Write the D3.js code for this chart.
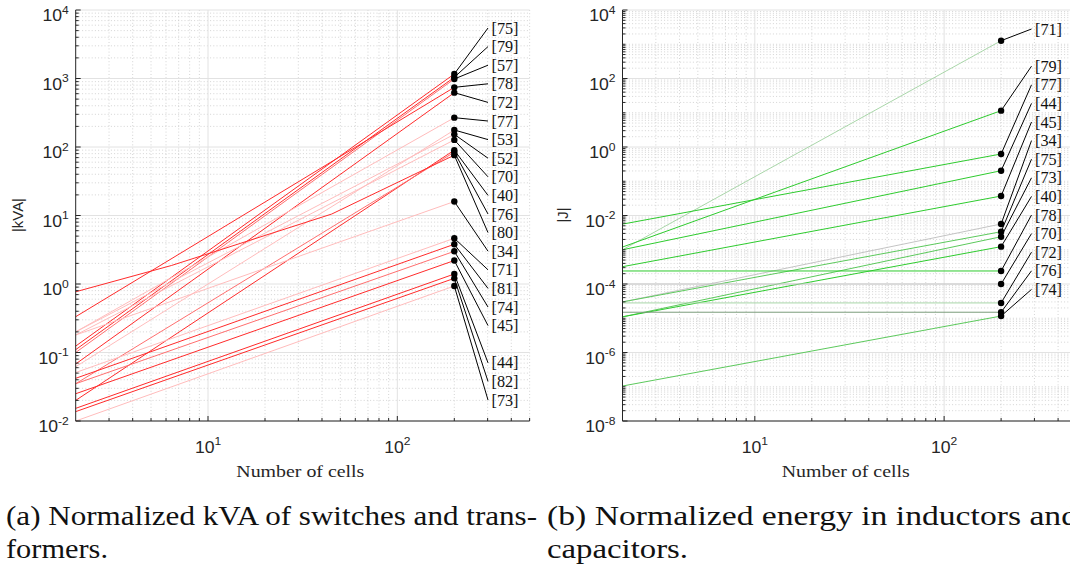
<!DOCTYPE html>
<html><head><meta charset="utf-8">
<script src="https://cdn.jsdelivr.net/npm/d3@7"></script>
<style>body{margin:0;background:#fff}svg{display:block}</style>
</head><body><svg id="c" width="1070" height="572"></svg>
<script>
// ---------- data ----------
const cellsDomain = [2, 500];
const cellsStart = 2;
const cellsEnd = 200;
const cellsTickExps = [1, 2];

const kvaRefs  = ["[75]","[79]","[57]","[78]","[72]","[77]","[53]","[52]","[70]","[40]","[76]","[80]","[34]","[71]","[81]","[74]","[45]","[44]","[82]","[73]"];
const kvaAt2   = [0.124,0.11,0.10,0.333,0.068,0.2,0.062,0.2,0.18,0.020,0.035,0.77,0.18,0.051,0.042,0.035,0.025,0.0153,0.0137,0.010];
const kvaAt200 = [1164,1041,984,743,621,268,177,153,127,90,84,76,16,4.65,3.8,3.0,2.2,1.40,1.21,0.935];
const kvaTone  = ["strong","strong","medium","strong","strong","light","light","light","light","strong","medium","strong","light","light","strong","medium","strong","strong","strong","light"];
const kvaBendRef = "[80]";
const kvaBendCells  = [2, 6.4, 45, 200];
const kvaBendValues = [0.77, 1.86, 10.5, 76];
const kvaTickExps = [-2,-1,0,1,2,3,4];
const kvaGapBefore = ["[44]"];

const energyRefs  = ["[71]","[79]","[77]","[44]","[45]","[34]","[75]","[73]","[40]","[78]","[70]","[72]","[76]","[74]"];
const energyAt2   = [0.0010,0.0012,0.0056,0.0010,3.2e-4,3.0e-5,3.0e-5,1.1e-5,1.1e-5,2.4e-4,1.0e-4,2.8e-5,1.5e-5,1.05e-7];
const energyAt200 = [1270,11.5,0.625,0.203,0.037,0.00565,0.00336,0.0024,0.00123,2.4e-4,1.0e-4,2.8e-5,1.5e-5,1.16e-5];
const energyTone  = ["pale","strong","strong","strong","strong","grey","medium","medium","strong","strong","grey","pale","dark","medium"];
const energyTickExps = [-8,-6,-4,-2,0,2,4];
const energyGapBefore = ["[79]"];

const yTitles = ["|kVA|", "|J|"];
const xTitle = "Number of cells";
const captionA = ["(a) Normalized kVA of switches and trans-", "formers."];
const captionB = ["(b) Normalized energy in inductors and", "capacitors."];

// ---------- styles ----------
const toneColor = {strong:"#ff2b2b", medium:"#ff6f6f", light:"#ffbcbc"};
const greenColor = {strong:"#2ecb2e", medium:"#5cc95c", pale:"#a9d6a9", grey:"#c4c4c4", dark:"#7b9b7b"};
const SERIF = '"Liberation Serif"';
const SANS = '"Liberation Sans"';

const svg = d3.select("#c");
const TOP = 10, BOTTOM = 421;

function drawPanel(p) {
  const x = d3.scaleLog().domain(cellsDomain).range([p.left, p.right]);
  const eLo = d3.min(p.tickExps), eHi = d3.max(p.tickExps);
  const y = d3.scaleLog().domain([10 ** eLo, 10 ** eHi]).range([BOTTOM, TOP]);
  const g = svg.append("g");
  const labeled = new Set(p.tickExps);

  const yMinor = [], yMajor = [];
  for (let e = eLo; e <= eHi; e++) {
    if (labeled.has(e)) yMajor.push(10 ** e); else yMinor.push(10 ** e);
    if (e < eHi) for (let k = 2; k <= 9; k++) yMinor.push(k * 10 ** e);
  }
  const xMinor = [], xMajor = [];
  for (let e = 0; e <= 2; e++) for (let k = 1; k <= 9; k++) {
    const v = k * 10 ** e;
    if (v <= cellsDomain[0] || v > cellsDomain[1]) continue;
    (k === 1 ? xMajor : xMinor).push(v);
  }

  const grid = g.append("g");
  grid.selectAll(".ym").data(yMinor).join("line")
    .attr("x1", p.left).attr("x2", p.right).attr("y1", d => y(d)).attr("y2", d => y(d))
    .attr("stroke", "#c9c9c9").attr("stroke-width", 0.8).attr("stroke-dasharray", "1,2.2");
  grid.selectAll(".xm").data(xMinor).join("line")
    .attr("y1", TOP).attr("y2", BOTTOM).attr("x1", d => x(d)).attr("x2", d => x(d))
    .attr("stroke", "#c9c9c9").attr("stroke-width", 0.8).attr("stroke-dasharray", "1,2.2");
  grid.selectAll(".yM").data(yMajor).join("line")
    .attr("x1", p.left).attr("x2", p.right).attr("y1", d => y(d)).attr("y2", d => y(d))
    .attr("stroke", "#e2e2e2").attr("stroke-width", 1);
  grid.selectAll(".xM").data(xMajor).join("line")
    .attr("y1", TOP).attr("y2", BOTTOM).attr("x1", d => x(d)).attr("x2", d => x(d))
    .attr("stroke", "#e2e2e2").attr("stroke-width", 1);

  const line = d3.line().x(d => x(d[0])).y(d => y(d[1]));
  p.refs.forEach((ref, i) => {
    let pts;
    if (p.bendRef === ref) pts = p.bendCells.map((c, j) => [c, p.bendValues[j]]);
    else pts = [[cellsStart, p.at2[i]], [cellsEnd, p.at200[i]]];
    g.append("path").attr("d", line(pts)).attr("fill", "none")
      .attr("stroke", p.colors[p.tones[i]]).attr("stroke-width", 1);
  });

  const ax = g.append("g").attr("stroke", "#262626").attr("stroke-width", 1);
  ax.append("line").attr("x1", p.left).attr("x2", p.left).attr("y1", TOP).attr("y2", BOTTOM);
  ax.append("line").attr("x1", p.left).attr("x2", p.right).attr("y1", BOTTOM).attr("y2", BOTTOM);
  yMajor.forEach(v => ax.append("line").attr("x1", p.left).attr("x2", p.left + 5).attr("y1", y(v)).attr("y2", y(v)));
  yMinor.forEach(v => ax.append("line").attr("x1", p.left).attr("x2", p.left + 3).attr("y1", y(v)).attr("y2", y(v)));
  xMajor.forEach(v => ax.append("line").attr("x1", x(v)).attr("x2", x(v)).attr("y1", BOTTOM).attr("y2", BOTTOM - 5));
  xMinor.forEach(v => ax.append("line").attr("x1", x(v)).attr("x2", x(v)).attr("y1", BOTTOM).attr("y2", BOTTOM - 3));

  p.tickExps.forEach(e => {
    const t = g.append("text").style("font-family", SANS)
      .attr("transform", `translate(${p.left - 7},${y(10 ** e) + 11}) scale(1.1,1)`)
      .attr("text-anchor", "end").attr("font-size", 16).attr("fill", "#262626");
    t.append("tspan").text("10");
    t.append("tspan").attr("dy", -7.5).attr("font-size", 11).text(String(e));
  });
  cellsTickExps.forEach(e => {
    const t = g.append("text").style("font-family", SANS)
      .attr("transform", `translate(${x(10 ** e)},${453}) scale(1.1,1)`)
      .attr("text-anchor", "middle").attr("font-size", 16).attr("fill", "#262626");
    t.append("tspan").text("10");
    t.append("tspan").attr("dy", -8).attr("font-size", 11).text(String(e));
  });

  g.append("text").style("font-family", SERIF).attr("x", (p.left + p.plotCenterRight) / 2).attr("y", 477)
    .attr("text-anchor", "middle").attr("font-size", 17)
    .attr("textLength", 128).attr("lengthAdjust", "spacingAndGlyphs").attr("fill", "#262626").text(xTitle);
  g.append("text").style("font-family", SANS).attr("transform", `translate(${p.yTitleX},${p.yTitleY}) rotate(-90)`)
    .attr("text-anchor", "middle").attr("font-size", 15)
    .attr("textLength", p.yTitleLen).attr("lengthAdjust", "spacingAndGlyphs").attr("fill", "#262626").text(p.yTitle);

  let slot = 0;
  const slots = p.refs.map(ref => { if (p.gapBefore.includes(ref)) slot++; return slot++; });
  const endVal = (ref, i) => p.bendRef === ref ? p.bendValues[p.bendValues.length - 1] : p.at200[i];
  p.refs.forEach((ref, i) => {
    const ly = p.labelTop + slots[i] * 18.6;
    g.append("line").attr("x1", x(cellsEnd)).attr("y1", y(endVal(ref, i))).attr("x2", p.leaderX).attr("y2", ly)
      .attr("stroke", "#000").attr("stroke-width", 1);
    g.append("text").style("font-family", SERIF).attr("x", p.leaderX + 3.5).attr("y", ly + 5.5)
      .attr("font-size", 16).attr("fill", "#111")
      .attr("textLength", 27).attr("lengthAdjust", "spacingAndGlyphs").text(ref);
  });
  p.refs.forEach((ref, i) => {
    g.append("circle").attr("cx", x(cellsEnd)).attr("cy", y(endVal(ref, i))).attr("r", 3.2).attr("fill", "#000");
  });
}

drawPanel({
  left: 75.7, right: 75.7 + Math.log10(cellsDomain[1] / cellsDomain[0]) * 189.3, plotCenterRight: 525,
  tickExps: kvaTickExps, refs: kvaRefs, at2: kvaAt2, at200: kvaAt200, tones: kvaTone, colors: toneColor,
  bendRef: kvaBendRef, bendCells: kvaBendCells, bendValues: kvaBendValues, gapBefore: kvaGapBefore,
  labelTop: 28, leaderX: 488, yTitle: yTitles[0], yTitleX: 23, yTitleY: 215, yTitleLen: 34
});
drawPanel({
  left: 622.5, right: 622.5 + Math.log10(cellsDomain[1] / cellsDomain[0]) * 189.3, plotCenterRight: 1069,
  tickExps: energyTickExps, refs: energyRefs, at2: energyAt2, at200: energyAt200, tones: energyTone, colors: greenColor,
  bendRef: null, bendCells: [], bendValues: [], gapBefore: energyGapBefore,
  labelTop: 29, leaderX: 1031.5, yTitle: yTitles[1], yTitleX: 568, yTitleY: 215, yTitleLen: 15
});

// captions
function capLine(txt, x0, y0, width) {
  svg.append("text").style("font-family", SERIF).attr("x", x0).attr("y", y0)
    .attr("font-size", 27).attr("fill", "#111")
    .attr("textLength", width).attr("lengthAdjust", "spacingAndGlyphs").text(txt);
}
capLine(captionA[0], 6, 525, 531);
capLine(captionA[1], 6, 558, 102);
capLine(captionB[0], 547, 525, 531);
capLine(captionB[1], 547, 558, 141);
</script></body></html>
